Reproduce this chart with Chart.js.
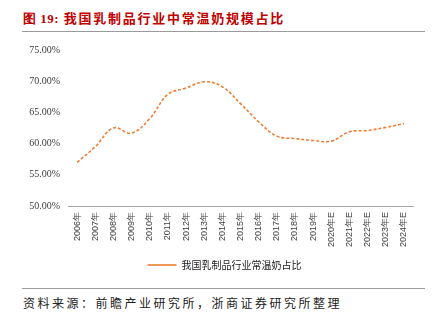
<!DOCTYPE html>
<html>
<head>
<meta charset="utf-8">
<script src="https://cdn.jsdelivr.net/npm/chart.js@4"></script>
<style>
  html, body { margin: 0; padding: 0; background: #fff; }
  body { width: 435px; height: 325px; position: relative; overflow: hidden;
         font-family: "Noto Sans CJK SC", "Liberation Serif", serif; }
  #title { position: absolute; left: 23px; top: 8px; font-size: 13px; font-weight: bold;
           color: #C00000; white-space: nowrap; letter-spacing: 1.75px; }
  #title .num { font-family: "Liberation Serif", serif; letter-spacing: 0.5px; }
  .rule { position: absolute; left: 22px; width: 403px; height: 1px; background: #9a9a9a; }
  #source { position: absolute; left: 23px; top: 294px; font-size: 12px; color: #222;
            white-space: nowrap; letter-spacing: 2.5px; }
  #wrap { position: absolute; left: 0; top: 35px; width: 435px; height: 245px; }
</style>
</head>
<body>
<div id="title"><span class="num">图 19:</span> 我国乳制品行业中常温奶规模占比</div>
<div class="rule" style="top:31px"></div>
<div id="wrap"><canvas id="chart"></canvas></div>
<div class="rule" style="top:288px"></div>
<div id="source">资料来源：前瞻产业研究所，浙商证券研究所整理</div>
<script>
// ── 数据 ────────────────────────────────────────────────────────────
const years = ['2006年', '2007年', '2008年', '2009年', '2010年', '2011年', '2012年',
               '2013年', '2014年', '2015年', '2016年', '2017年', '2018年', '2019年',
               '2020年E', '2021年E', '2022年E', '2023年E', '2024年E'];
const share = [57.0, 59.5, 62.5, 61.7, 64.0, 67.9, 68.9, 69.9, 69.1, 66.4,
               63.5, 61.2, 60.8, 60.5, 60.4, 61.9, 62.1, 62.6, 63.2];
const seriesName = '我国乳制品行业常温奶占比';
const yTicks = [50, 55, 60, 65, 70, 75];

const ORANGE = '#ED7D31';
const TEXT = '#404040';

// legend sits a little right of the canvas centre in the original
const shiftLegend = {
    id: 'shiftLegend',
    afterLayout(chart) {
        if (!chart.legend) return;
        chart.legend.left += 18;
        chart.legend.right += 18;
    }
};

new Chart(document.getElementById('chart'), {
    type: 'line',
    data: {
        labels: years,
        datasets: [{
            label: seriesName,
            data: share,
            borderColor: ORANGE,
            backgroundColor: ORANGE,
            borderWidth: 1.6,
            borderDash: [3, 2],
            pointRadius: 0,
            tension: 0.4,
            fill: false
        }]
    },
    plugins: [shiftLegend],
    options: {
        responsive: true, maintainAspectRatio: false, animation: false,
        layout: { padding: { left: 0, right: 22, top: 15, bottom: 0 } },
        plugins: {
            tooltip: { enabled: false },
            legend: {
                position: 'bottom',
                labels: {
                    color: '#222', font: { size: 10, family: '"Noto Sans CJK SC"' },
                    usePointStyle: true, pointStyle: 'line', pointStyleWidth: 29,
                    padding: 8, boxHeight: 10
                }
            }
        },
        scales: {
            x: {
                offset: true,
                grid: { display: false, drawTicks: false },
                border: { display: true, color: '#a6a6a6', width: 1 },
                ticks: {
                    color: TEXT, font: { size: 9, family: '"Liberation Sans", Arial' },
                    minRotation: 90, maxRotation: 90, autoSkip: false, padding: 6
                },
                afterFit: s => { s.height = 46; }
            },
            y: {
                min: 50, max: 75,
                afterBuildTicks: s => { s.ticks = yTicks.map(v => ({ value: v })); },
                grid: { display: false, drawTicks: false },
                border: { display: false },
                ticks: {
                    color: TEXT, font: { size: 10, family: '"Liberation Serif", serif' },
                    padding: 8, callback: v => v.toFixed(2) + '%'
                },
                afterFit: s => { s.width = 68; }
            }
        }
    }
});
</script>
</body>
</html>
